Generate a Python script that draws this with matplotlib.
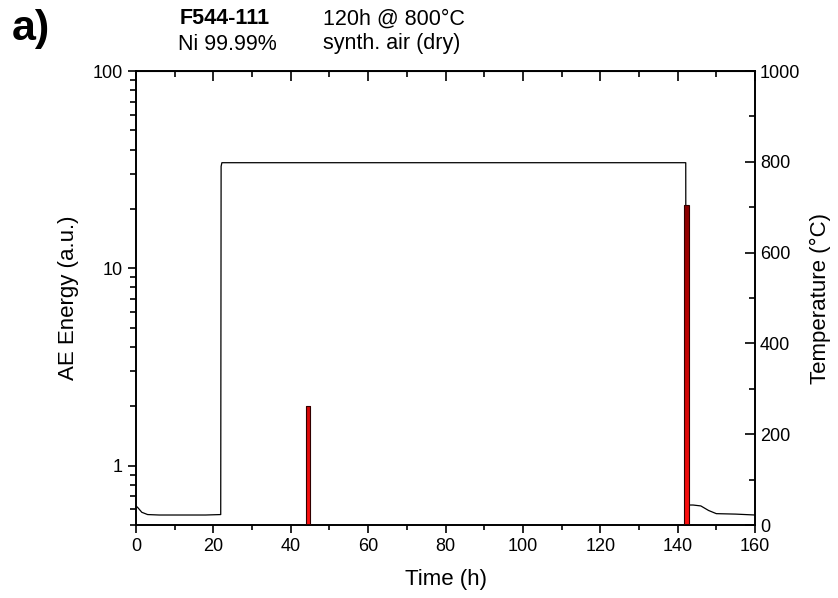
import numpy as np
import matplotlib
matplotlib.use('Agg')
import matplotlib.pyplot as plt
from matplotlib.colors import LinearSegmentedColormap
from matplotlib.ticker import FixedLocator, NullFormatter

plt.rcParams['font.family'] = ['Liberation Sans', 'DejaVu Sans']

# temperature profile (h, degC)
temp_time = [0.0, 0.5, 1.5, 3.0, 6.0, 12.0, 18.0, 21.9, 22.0, 22.2, 40.0, 80.0, 120.0, 142.1,
             142.2, 144.0, 146.0, 148.0, 150.0, 155.0, 160.0]
temp_vals = [42.0, 38.0, 28.0, 23.0, 22.0, 22.0, 22.0, 23.0, 790.0, 798.0, 798.0, 798.0, 798.0, 798.0,
             44.0, 44.0, 42.0, 32.0, 25.0, 24.0, 22.0]

# AE energy events (h, a.u.)
ae_time = [44.4, 142.3]
ae_energy = [2.0, 21.0]
y_floor = 0.5
bar_width = 1.1

fig = plt.figure(figsize=(8.38, 5.98), dpi=100)
ax = fig.add_axes([136 / 838, 1 - 525 / 598, 619 / 838, 454 / 598])
ax2 = ax.twinx()

# AE bars with red gradient
cmap = LinearSegmentedColormap.from_list('aered', ['#ff1010', '#b00000', '#500000'])
grad = np.linspace(0, 1, 256).reshape(-1, 1)
bars = ax.bar(ae_time, [e - y_floor for e in ae_energy], width=bar_width, bottom=y_floor,
              facecolor='none', edgecolor='#300000', linewidth=0.8, zorder=3)
for b in bars:
    im = ax.imshow(grad, cmap=cmap, origin='lower', aspect='auto',
                   extent=[0, 1, 0, 1], transform=ax.transAxes, zorder=2)
    im.set_clip_path(b)
ax.set_yscale('log')
ax.set_ylim(y_floor, 100)
ax.set_xlim(0, 160)

ax2.plot(temp_time, temp_vals, color='black', linewidth=0.9)
ax2.set_ylim(0, 1000)
ax.set_zorder(ax2.get_zorder() + 1)
ax.patch.set_visible(False)

ax.set_xticks(np.arange(0, 161, 20))
ax.xaxis.set_minor_locator(FixedLocator(np.arange(10, 160, 20)))
ax.set_yticks([1, 10, 100])
ax.set_yticklabels(['1', '10', '100'])
ax.yaxis.set_minor_formatter(NullFormatter())
ax2.set_yticks(np.arange(0, 1001, 200))
ax2.yaxis.set_minor_locator(FixedLocator(np.arange(100, 1000, 200)))

ax.tick_params(axis='x', which='both', direction='out', top=False, labelsize=13, width=1.2)
ax.tick_params(axis='x', which='major', length=6)
ax.tick_params(axis='x', which='minor', length=3.5)
ax.tick_params(axis='y', which='both', direction='out', labelsize=13, width=1.2)
ax.tick_params(axis='y', which='major', length=6)
ax.tick_params(axis='y', which='minor', length=4)
ax2.tick_params(axis='y', which='both', direction='in', labelsize=13, width=1.2)
ax2.tick_params(axis='y', which='major', length=7)
ax2.tick_params(axis='y', which='minor', length=4)

# top ticks pointing inward
sec = ax.secondary_xaxis('top')
sec.set_xticks(np.arange(0, 161, 20))
sec.xaxis.set_minor_locator(FixedLocator(np.arange(10, 160, 20)))
sec.tick_params(which='both', direction='in', labeltop=False, width=1.2)
sec.tick_params(which='major', length=7)
sec.tick_params(which='minor', length=4)

for a in (ax, ax2):
    for s in a.spines.values():
        s.set_linewidth(1.2)

ax.set_xlabel('Time (h)', fontsize=16)
ax.set_ylabel('AE Energy (a.u.)', fontsize=16)
ax2.set_ylabel('Temperature (°C)', fontsize=16)
ax.xaxis.set_label_coords(0.5, -0.098)
ax.yaxis.set_label_coords(-0.092, 0.5)
ax2.yaxis.set_label_coords(1.088, 0.5)

fig.text(12 / 838, 1 - 29 / 598, 'a)', fontsize=31, fontweight='bold', va='center')
fig.text(180 / 838, 1 - 19 / 598, 'F544-111', fontsize=15.5, fontweight='bold', va='center')
fig.text(178 / 838, 1 - 44 / 598, 'Ni 99.99%', fontsize=15.5, va='center')
fig.text(323 / 838, 1 - 19 / 598, '120h @ 800°C', fontsize=15.5, va='center')
fig.text(323 / 838, 1 - 44 / 598, 'synth. air (dry)', fontsize=15.5, va='center')

fig.savefig('out.png', dpi=100)
